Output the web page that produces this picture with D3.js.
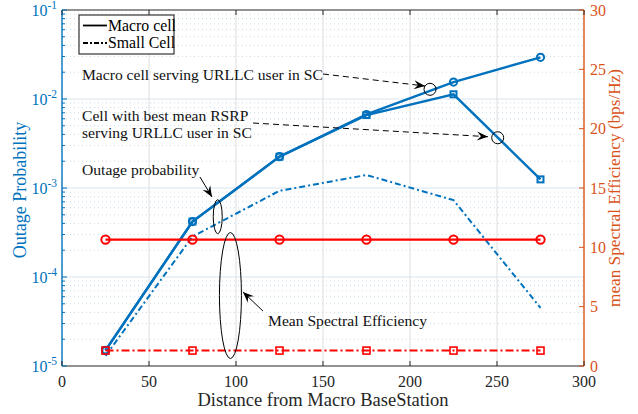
<!DOCTYPE html>
<html>
<head>
<meta charset="utf-8">
<script src="https://cdn.jsdelivr.net/npm/d3@7"></script>
<style>
body { margin: 0; background: #fff; }
text { font-family: "Liberation Serif", "DejaVu Serif", serif; }
</style>
</head>
<body>
<svg id="chart" width="638" height="414"></svg>
<script>
// data
var dist = [25, 75, 125, 175, 225, 275];
var outMacro = [1.5e-5, 4.2e-4, 2.25e-3, 6.7e-3, 1.55e-2, 2.94e-2];   // macro cell serving URLLC user in SC
var outBest  = [1.5e-5, 4.2e-4, 2.25e-3, 6.6e-3, 1.13e-2, 1.25e-3];   // cell with best mean RSRP
var outSmall = [1.3e-5, 2.85e-4, 9.3e-4, 1.4e-3, 7.3e-4, 4.5e-5];     // small cell
var seMacro  = [10.65, 10.65, 10.65, 10.65, 10.65, 10.65];
var seSmall  = [1.3, 1.3, 1.3, 1.3, 1.3, 1.3];

var xTicks = [0, 50, 100, 150, 200, 250, 300];
var yTicks = [1e-5, 1e-4, 1e-3, 1e-2, 1e-1];
var yTickExp = ["-5", "-4", "-3", "-2", "-1"];
var seTicks = [0, 5, 10, 15, 20, 25, 30];

var blue = "#0072BD", orange = "#D95319", red = "#FF0000", ink = "#262626";
var W = 638, H = 414, m = {l: 62, r: 54, t: 10, b: 48};

var svg = d3.select("#chart");
var x = d3.scaleLinear().domain([0, 300]).range([m.l, W - m.r]);
var y = d3.scaleLog().domain([1e-5, 1e-1]).range([H - m.b, m.t]);
var yR = d3.scaleLinear().domain([0, 30]).range([H - m.b, m.t]);

// minor log ticks
var minor = [];
yTicks.slice(0, -1).forEach(function(t) {
  for (var k = 2; k < 10; k++) minor.push(t * k);
});

var grid = svg.append("g");
grid.selectAll("line.mg").data(minor).enter().append("line")
  .attr("x1", x(0)).attr("x2", x(300))
  .attr("y1", function(d) { return y(d); }).attr("y2", function(d) { return y(d); })
  .style("stroke", "#c9dcea").style("stroke-width", 1).style("stroke-dasharray", "1,3");
grid.selectAll("line.gy").data(yTicks.slice(1, -1)).enter().append("line")
  .attr("x1", x(0)).attr("x2", x(300))
  .attr("y1", function(d) { return y(d); }).attr("y2", function(d) { return y(d); })
  .style("stroke", "#d6e6f2").style("stroke-width", 1);
grid.selectAll("line.gx").data(xTicks.slice(1, -1)).enter().append("line")
  .attr("y1", y(1e-5)).attr("y2", y(1e-1))
  .attr("x1", function(d) { return x(d); }).attr("x2", function(d) { return x(d); })
  .style("stroke", "#dedede").style("stroke-width", 1);

// lines
var lineL = function(vals) {
  return d3.line().x(function(d, i) { return x(dist[i]); }).y(function(d) { return y(d); })(vals);
};
var lineR = function(vals) {
  return d3.line().x(function(d, i) { return x(dist[i]); }).y(function(d) { return yR(d); })(vals);
};

var plot = svg.append("g");
plot.append("path").attr("d", lineL(outSmall))
  .style("fill", "none").style("stroke", blue).style("stroke-width", 2)
  .style("stroke-dasharray", "6,3,2,3");
plot.append("path").attr("d", lineL(outBest))
  .style("fill", "none").style("stroke", blue).style("stroke-width", 2.4);
plot.append("path").attr("d", lineL(outMacro))
  .style("fill", "none").style("stroke", blue).style("stroke-width", 2.4);

plot.selectAll("rect.bs").data(outBest).enter().append("rect")
  .attr("x", function(d, i) { return x(dist[i]) - 3; })
  .attr("y", function(d) { return y(d) - 3; })
  .attr("width", 6).attr("height", 6)
  .style("fill", "none").style("stroke", blue).style("stroke-width", 2);
plot.selectAll("circle.mc").data(outMacro).enter().append("circle")
  .attr("cx", function(d, i) { return x(dist[i]); })
  .attr("cy", function(d) { return y(d); })
  .attr("r", 3.6)
  .style("fill", "none").style("stroke", blue).style("stroke-width", 2);

plot.append("path").attr("d", lineR(seSmall))
  .style("fill", "none").style("stroke", red).style("stroke-width", 2)
  .style("stroke-dasharray", "8,3,2,3");
plot.append("path").attr("d", lineR(seMacro))
  .style("fill", "none").style("stroke", red).style("stroke-width", 2.2);
plot.selectAll("rect.ss").data(seSmall).enter().append("rect")
  .attr("x", function(d, i) { return x(dist[i]) - 3.5; })
  .attr("y", function(d) { return yR(d) - 3.5; })
  .attr("width", 7).attr("height", 7)
  .style("fill", "none").style("stroke", red).style("stroke-width", 1.6);
plot.selectAll("circle.sm").data(seMacro).enter().append("circle")
  .attr("cx", function(d, i) { return x(dist[i]); })
  .attr("cy", function(d) { return yR(d); })
  .attr("r", 4.2)
  .style("fill", "none").style("stroke", red).style("stroke-width", 2);

// axes frame
var ax = svg.append("g");
ax.append("line").attr("x1", x(0)).attr("x2", x(300)).attr("y1", y(1e-5)).attr("y2", y(1e-5))
  .style("stroke", ink).style("stroke-width", 1.2);
ax.append("line").attr("x1", x(0)).attr("x2", x(300)).attr("y1", y(1e-1)).attr("y2", y(1e-1))
  .style("stroke", ink).style("stroke-width", 1.2);
ax.append("line").attr("x1", x(0)).attr("x2", x(0)).attr("y1", y(1e-5)).attr("y2", y(1e-1))
  .style("stroke", blue).style("stroke-width", 1.4);
ax.append("line").attr("x1", x(300)).attr("x2", x(300)).attr("y1", y(1e-5)).attr("y2", y(1e-1))
  .style("stroke", orange).style("stroke-width", 1.4);

// x ticks, bottom and top, pointing inward
xTicks.forEach(function(t) {
  ax.append("line").attr("x1", x(t)).attr("x2", x(t)).attr("y1", y(1e-5)).attr("y2", y(1e-5) - 5)
    .style("stroke", ink);
  ax.append("line").attr("x1", x(t)).attr("x2", x(t)).attr("y1", y(1e-1)).attr("y2", y(1e-1) + 5)
    .style("stroke", ink);
  ax.append("text").attr("x", x(t)).attr("y", y(1e-5) + 21)
    .attr("text-anchor", "middle").style("font-size", "16px").style("fill", ink).text(t);
});

// left log ticks
yTicks.forEach(function(t, i) {
  ax.append("line").attr("x1", x(0)).attr("x2", x(0) + 5).attr("y1", y(t)).attr("y2", y(t))
    .style("stroke", blue);
  var tx = ax.append("text").attr("x", x(0) - 5).attr("y", y(t) + 6)
    .attr("text-anchor", "end").style("font-size", "16px").style("fill", blue);
  tx.append("tspan").text("10");
  tx.append("tspan").attr("dy", -7).style("font-size", "11.5px").text(yTickExp[i]);
});
minor.forEach(function(t) {
  ax.append("line").attr("x1", x(0)).attr("x2", x(0) + 3).attr("y1", y(t)).attr("y2", y(t))
    .style("stroke", blue);
});

// right linear ticks
seTicks.forEach(function(t) {
  ax.append("line").attr("x1", x(300)).attr("x2", x(300) - 5).attr("y1", yR(t)).attr("y2", yR(t))
    .style("stroke", orange);
  ax.append("text").attr("x", x(300) + 6).attr("y", yR(t) + 5.5)
    .style("font-size", "16px").style("fill", orange).text(t);
});

// axis labels
svg.append("text").attr("x", (x(0) + x(300)) / 2).attr("y", H - 8)
  .attr("text-anchor", "middle").style("font-size", "18.5px").style("fill", ink)
  .text("Distance from Macro BaseStation");
svg.append("text").attr("transform", "translate(26,190) rotate(-90)")
  .attr("text-anchor", "middle").style("font-size", "18px").style("fill", blue)
  .text("Outage Probability");
svg.append("text").attr("transform", "translate(620,188) rotate(-90)")
  .attr("text-anchor", "middle").style("font-size", "17.2px").style("fill", orange)
  .text("mean Spectral Efficiency (bps/Hz)");

// legend
var lg = svg.append("g");
lg.append("rect").attr("x", 79).attr("y", 15).attr("width", 95).attr("height", 39)
  .style("fill", "#fff").style("stroke", "#333").style("stroke-width", 1.2);
lg.append("line").attr("x1", 83).attr("x2", 107).attr("y1", 25.5).attr("y2", 25.5)
  .style("stroke", "#000").style("stroke-width", 1.8);
lg.append("line").attr("x1", 83).attr("x2", 107).attr("y1", 43).attr("y2", 43)
  .style("stroke", "#000").style("stroke-width", 1.8).style("stroke-dasharray", "5,2,2,2");
lg.append("text").attr("x", 108).attr("y", 30.5).style("font-size", "15.8px").text("Macro cell");
lg.append("text").attr("x", 108).attr("y", 48).style("font-size", "15.8px").text("Small Cell");

// annotations (placed in data units)
var an = svg.append("g");
function arrowHead(x1, y1, x2, y2) {
  var a = Math.atan2(y2 - y1, x2 - x1), L = 11, w = 4.5, b = 7;
  var p = function(dx, dy) {
    return [x2 + dx * Math.cos(a) - dy * Math.sin(a), y2 + dx * Math.sin(a) + dy * Math.cos(a)];
  };
  var pts = [p(0, 0), p(-L, -w), p(-b, 0), p(-L, w)];
  an.append("path").attr("d", "M" + pts.join("L") + "Z").style("fill", "#000");
}
function arrow(p1, p2, dashed, sc) {
  var x1 = x(p1[0]), y1 = sc(p1[1]), x2 = x(p2[0]), y2 = sc(p2[1]);
  an.append("line").attr("x1", x1).attr("y1", y1).attr("x2", x2).attr("y2", y2)
    .style("stroke", "#000").style("stroke-width", 1)
    .style("stroke-dasharray", dashed ? "6,4" : null);
  arrowHead(x1, y1, x2, y2);
}
function label(p, sc, lines) {
  lines.forEach(function(s, i) {
    an.append("text").attr("x", x(p[0])).attr("y", sc(p[1]) + i * 17)
      .style("font-size", "15.6px").style("fill", "#111").text(s);
  });
}

label([11.5, 1.63e-2], y, ["Macro cell serving URLLC user in SC"]);
arrow([150, 1.91e-2], [208.6, 1.40e-2], true, y);
an.append("circle").attr("cx", x(211.5)).attr("cy", y(1.285e-2)).attr("r", 6)
  .style("fill", "none").style("stroke", "#000");

label([11.5, 5.66e-3], y, ["Cell with best mean RSRP", "serving URLLC user in SC"]);
arrow([109.8, 5.37e-3], [244.8, 3.77e-3], true, y);
an.append("circle").attr("cx", x(250.4)).attr("cy", y(3.67e-3)).attr("r", 6)
  .style("fill", "none").style("stroke", "#000");

label([11.5, 1.40e-3], y, ["Outage probability"]);
arrow([79.3, 1.33e-3], [86.2, 7.93e-4], false, y);
an.append("ellipse").attr("cx", x(89.5)).attr("cy", y(4.76e-4)).attr("rx", 4.5).attr("ry", 17)
  .style("fill", "none").style("stroke", "#000");

label([118.4, 3.37], yR, ["Mean Spectral Efficiency"]);
arrow([115.5, 4.63], [104, 6.24], false, yR);
an.append("ellipse").attr("cx", x(96.8)).attr("cy", yR(5.94)).attr("rx", 11).attr("ry", 63)
  .style("fill", "none").style("stroke", "#000");
</script>
</body>
</html>
